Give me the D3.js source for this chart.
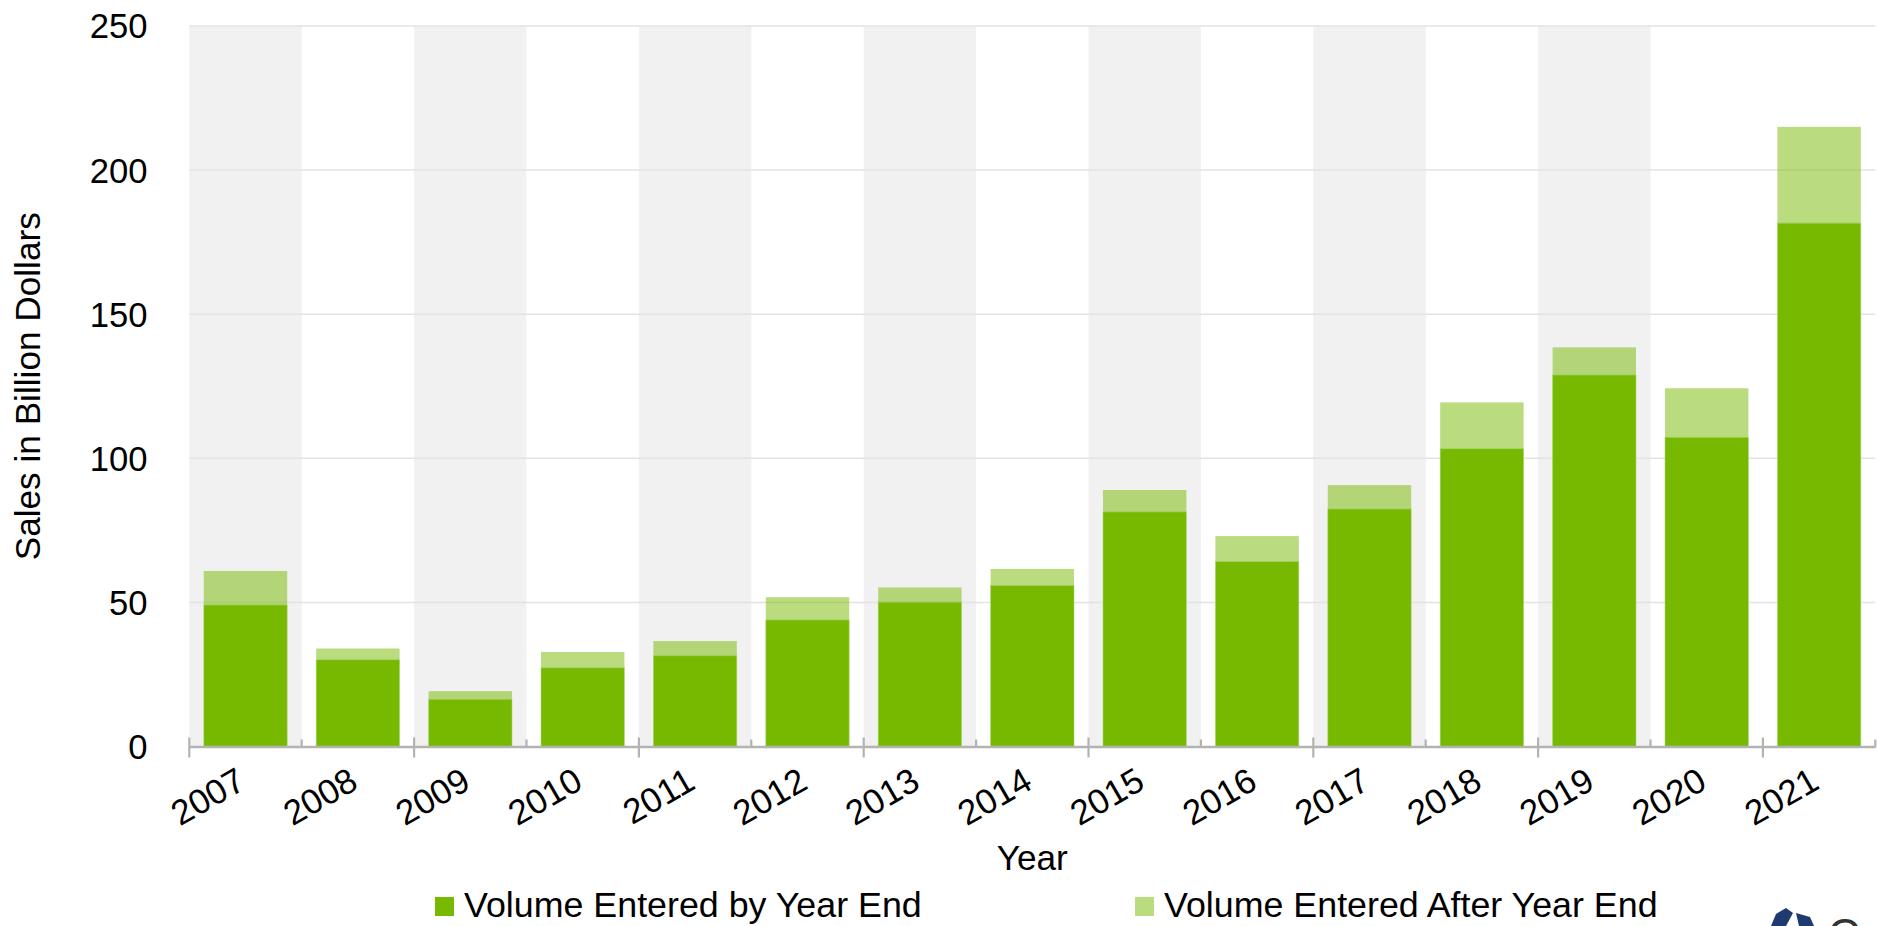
<!DOCTYPE html>
<html>
<head>
<meta charset="utf-8">
<script src="https://cdn.jsdelivr.net/npm/d3@7"></script>
<style>
  html, body { margin: 0; padding: 0; background: #fff; }
  svg { display: block; font-family: "Liberation Sans", Arial, sans-serif; }
</style>
</head>
<body>
<svg id="chart" width="1877" height="926"></svg>
<script>
// ---- data ----
const years = ["2007","2008","2009","2010","2011","2012","2013","2014","2015","2016","2017","2018","2019","2020","2021"];
const volumeByYearEnd = [49.1, 30.1, 16.4, 27.3, 31.5, 43.9, 50.1, 55.9, 81.4, 64.2, 82.4, 103.3, 128.9, 107.3, 181.6];
const volumeAfterYearEnd = [11.8, 3.9, 2.8, 5.5, 5.1, 7.9, 5.1, 5.7, 7.6, 8.8, 8.3, 16.1, 9.6, 17.0, 33.4];
const yTicks = [0, 50, 100, 150, 200, 250];
const shadedYears = ["2007","2009","2011","2013","2015","2017","2019"];
const seriesNames = ["Volume Entered by Year End", "Volume Entered After Year End"];

(function () {
// ---- layout ----
const svg = d3.select("#chart");
const pLeft = 189.3, pRight = 1875.3, pTop = 26, pBottom = 746.5;
const FS = 34.67;
const green = "#76b900";

const x = d3.scaleBand().domain(years).range([pLeft, pRight]).padding(0);
const y = d3.scaleLinear().domain([0, 250]).range([pBottom, pTop]);
const bw = x.bandwidth();
const barW = bw * 0.742;

// background bands
svg.append("g").selectAll("rect").data(years.filter(d => shadedYears.includes(d)))
  .join("rect")
  .attr("x", d => x(d)).attr("y", pTop)
  .attr("width", bw).attr("height", pBottom - pTop)
  .attr("fill", "#f1f1f1");

// gridlines
svg.append("g").selectAll("line").data(yTicks.filter(t => t > 0))
  .join("line")
  .attr("x1", pLeft).attr("x2", pRight)
  .attr("y1", d => y(d)).attr("y2", d => y(d))
  .attr("stroke", "#e3e3e3").attr("stroke-width", 1.5);

// bars: by year end
const barX = d => x(d) + (bw - barW) / 2;
svg.append("g").selectAll("rect").data(years)
  .join("rect")
  .attr("x", barX)
  .attr("y", (d, i) => y(volumeByYearEnd[i]))
  .attr("width", barW)
  .attr("height", (d, i) => y(0) - y(volumeByYearEnd[i]))
  .attr("fill", green)
  .attr("stroke", "#a9d572").attr("stroke-width", 0.8).attr("stroke-opacity", 0.7);

// bars: after year end (translucent)
svg.append("g").selectAll("rect").data(years)
  .join("rect")
  .attr("x", barX)
  .attr("y", (d, i) => y(volumeByYearEnd[i] + volumeAfterYearEnd[i]))
  .attr("width", barW)
  .attr("height", (d, i) => y(volumeByYearEnd[i]) - y(volumeByYearEnd[i] + volumeAfterYearEnd[i]))
  .attr("fill", green).attr("fill-opacity", 0.5);

// x axis line
svg.append("line")
  .attr("x1", pLeft).attr("x2", pRight)
  .attr("y1", pBottom + 0.5).attr("y2", pBottom + 0.5)
  .attr("stroke", "#b3b3b3").attr("stroke-width", 2.5);

// boundary ticks (alternating long / short)
const bounds = years.map(d => x(d)).concat([pRight]);
svg.append("g").selectAll("line").data(bounds)
  .join("line")
  .attr("x1", d => d).attr("x2", d => d)
  .attr("y1", (d, i) => i % 2 === 0 ? pBottom - 9 : pBottom - 7)
  .attr("y2", (d, i) => i % 2 === 0 ? pBottom + 11 : pBottom + 1)
  .attr("stroke", "#b3b3b3").attr("stroke-width", 2.2);

// x tick labels (rotated)
svg.append("g").selectAll("text").data(years)
  .join("text")
  .attr("transform", d => `translate(${x(d) + bw / 2 + 2},${pBottom + 41}) rotate(-30)`)
  .attr("text-anchor", "end")
  .attr("font-size", 35)
  .attr("fill", "#000")
  .text(d => d);

// y tick labels
svg.append("g").selectAll("text").data(yTicks)
  .join("text")
  .attr("x", 147.5)
  .attr("y", d => y(d))
  .attr("dy", "0.36em")
  .attr("text-anchor", "end")
  .attr("font-size", FS)
  .attr("fill", "#000")
  .text(d => d);

// axis titles
svg.append("text")
  .attr("transform", `translate(40,${(pTop + pBottom) / 2}) rotate(-90)`)
  .attr("text-anchor", "middle")
  .attr("font-size", 35.2)
  .attr("fill", "#000")
  .text("Sales in Billion Dollars");

svg.append("text")
  .attr("x", (pLeft + pRight) / 2)
  .attr("y", 870)
  .attr("text-anchor", "middle")
  .attr("font-size", 35.2)
  .attr("fill", "#000")
  .text("Year");

// legend
const legendX = [435, 1135];
const lg = svg.append("g").selectAll("g").data(seriesNames).join("g")
  .attr("transform", (d, i) => `translate(${legendX[i]},0)`);
lg.append("rect")
  .attr("x", 0).attr("y", 897).attr("width", 19).attr("height", 19)
  .attr("fill", green)
  .attr("fill-opacity", (d, i) => i === 0 ? 1 : 0.5);
lg.append("text")
  .attr("x", 29).attr("y", 917)
  .attr("font-size", 35.8)
  .attr("fill", "#000")
  .text(d => d);

// partial logo at bottom-right (cut off by the frame, as in the reference)
const logo = svg.append("g");
logo.append("path")
  .attr("d", "M1771,926 L1776,914 L1786,908 L1793,913 L1786,926 Z")
  .attr("fill", "#1e3a70");
logo.append("path")
  .attr("d", "M1796,913 L1810,917 L1814,926 L1799,926 Z")
  .attr("fill", "#1e3a70");
logo.append("text")
  .attr("x", 1828).attr("y", 950)
  .attr("font-size", 44)
  .attr("fill", "#333")
  .text("Co");
})();
</script>
</body>
</html>
